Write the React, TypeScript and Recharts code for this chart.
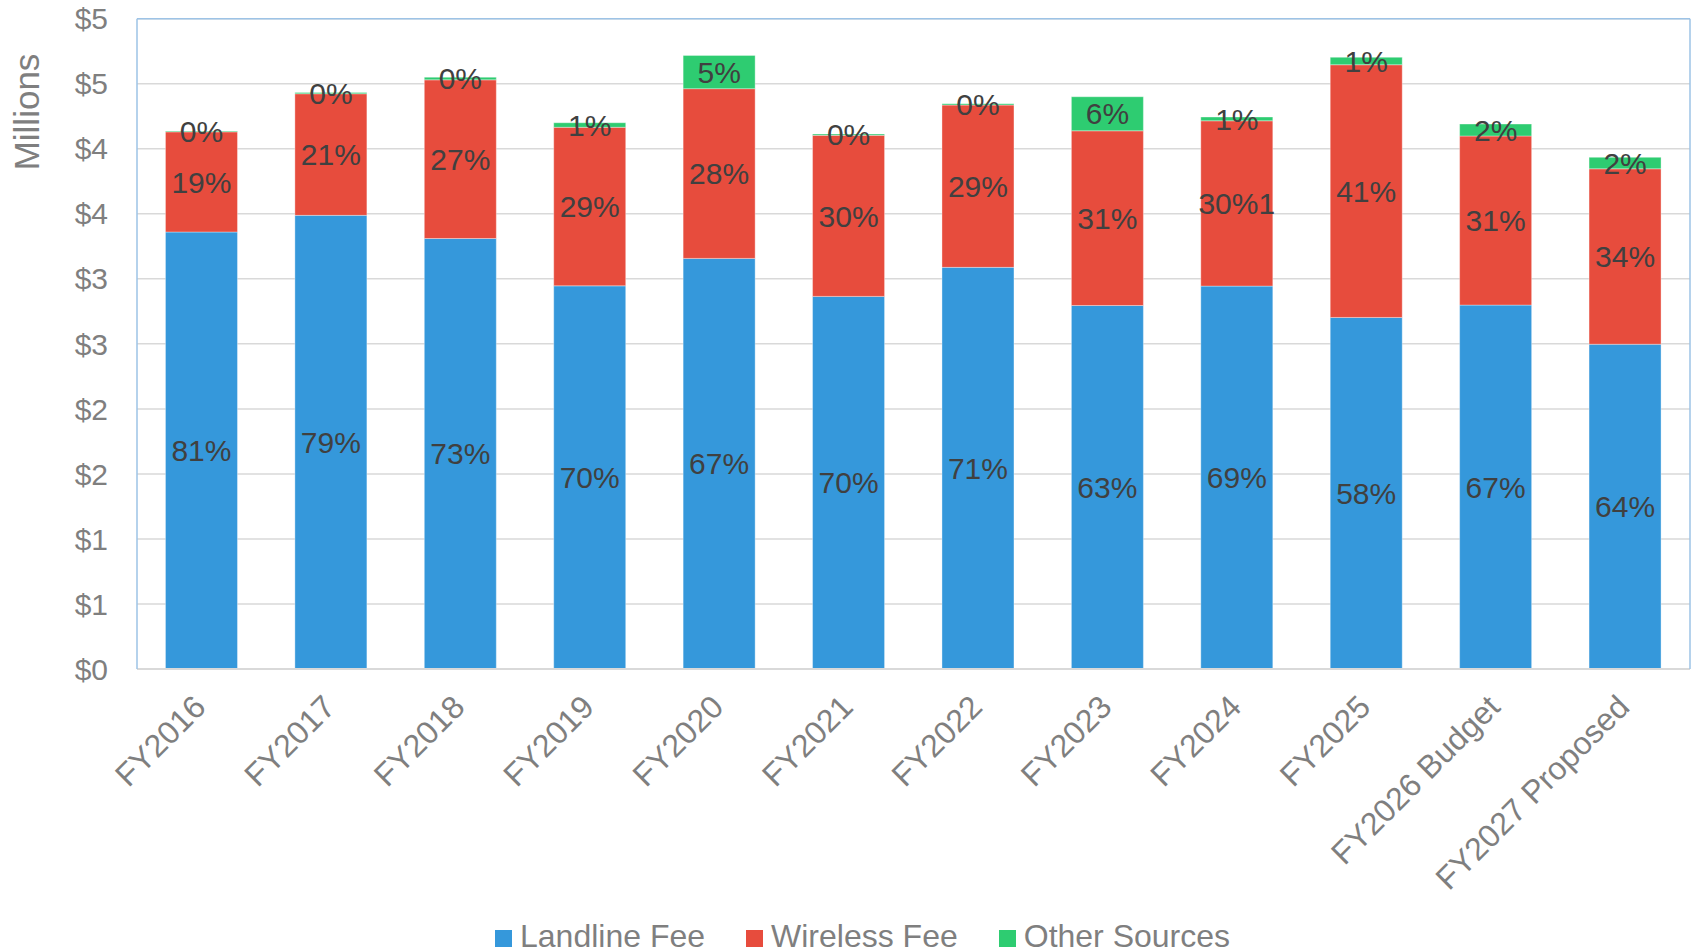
import { Bar, BarChart, CartesianGrid, LabelList, ReferenceLine, XAxis, YAxis } from 'recharts'

const categories = [
  'FY2016', 'FY2017', 'FY2018', 'FY2019', 'FY2020', 'FY2021',
  'FY2022', 'FY2023', 'FY2024', 'FY2025', 'FY2026 Budget', 'FY2027 Proposed',
]

// $ millions
const landline = [3.36, 3.488, 3.31, 2.946, 3.157, 2.865, 3.088, 2.795, 2.944, 2.703, 2.798, 2.497]
const wireless = [0.77, 0.935, 1.22, 1.219, 1.305, 1.238, 1.248, 1.343, 1.271, 1.943, 1.3, 1.349]
const other = [0.006, 0.01, 0.02, 0.035, 0.256, 0.01, 0.01, 0.262, 0.029, 0.057, 0.092, 0.088]

// labels as printed on the chart
const landlineLabels = ['81%', '79%', '73%', '70%', '67%', '70%', '71%', '63%', '69%', '58%', '67%', '64%']
const wirelessLabels = ['19%', '21%', '27%', '29%', '28%', '30%', '29%', '31%', '30%1', '41%', '31%', '34%']
const otherLabels = ['0%', '0%', '0%', '1%', '5%', '0%', '0%', '6%', '1%', '1%', '2%', '2%']

const yTicks = [0, 0.5, 1, 1.5, 2, 2.5, 3, 3.5, 4, 4.5, 5]

const SERIES = [
  { key: 'landline', label: 'landlineLabel', name: 'Landline Fee', color: '#3598db' },
  { key: 'wireless', label: 'wirelessLabel', name: 'Wireless Fee', color: '#e74c3d' },
  { key: 'other', label: 'otherLabel', name: 'Other Sources', color: '#2ecc71' },
]

const data = categories.map((name, i) => ({
  name,
  landline: landline[i],
  wireless: wireless[i],
  other: other[i],
  landlineLabel: landlineLabels[i],
  wirelessLabel: wirelessLabels[i],
  otherLabel: otherLabels[i],
}))

const FONT = '"Liberation Sans", Arial, sans-serif'
const GREY = '#7f7f7f'
const BORDER = '#9dc3e6'

function XTick({ x, y, payload }: { x?: number; y?: number; payload?: { value: string } }) {
  const ax = (x ?? 0) + 6
  const ay = (y ?? 0) + 40
  return (
    <text x={ax} y={ay} transform={`rotate(-45, ${ax}, ${ay})`} textAnchor="end"
      fill={GREY} fontSize={32} fontFamily={FONT}>
      {payload?.value}
    </text>
  )
}

function MillionsLabel() {
  return (
    <text transform="translate(39, 112) rotate(-90)" textAnchor="middle" fill={GREY}
      fontSize={35} fontFamily={FONT}>
      Millions
    </text>
  )
}

export default function App() {
  return (
    <div style={{ position: 'absolute', left: 0, top: 0, width: 1696, height: 952, background: '#fff' }}>
      <BarChart width={1696} height={952} data={data} barCategoryGap="22%"
        margin={{ top: 18.7, right: 0, left: 0, bottom: 0 }}>
        <CartesianGrid vertical={false} stroke="#d9d9d9" strokeWidth={1.5} />
        <XAxis dataKey="name" interval={0} tickLine={false} tickSize={0} tickMargin={0} height={283}
          axisLine={{ stroke: '#d9d9d9', strokeWidth: 2 }} tick={<XTick />} />
        <YAxis domain={[0, 5]} ticks={yTicks} width={137} tickLine={false} tickSize={8} tickMargin={21}
          axisLine={{ stroke: BORDER, strokeWidth: 1.5 }}
          tick={{ fill: GREY, fontSize: 30, fontFamily: FONT }}
          tickFormatter={(v: number) => `$${Math.round(v)}`}
          label={<MillionsLabel />} />
        <YAxis yAxisId="right" orientation="right" width={6} tick={false} tickLine={false}
          axisLine={{ stroke: BORDER, strokeWidth: 1.5 }} />
        <ReferenceLine y={5} stroke={BORDER} strokeWidth={1.5} />
        {SERIES.map((s) => (
          <Bar key={s.key} dataKey={s.key} name={s.name} stackId="a" fill={s.color}
            stroke="#ffffff" strokeOpacity={0.35} strokeWidth={1} isAnimationActive={false}>
            <LabelList dataKey={s.label} position="center" fill="#404040" fontSize={30} fontFamily={FONT} />
          </Bar>
        ))}
      </BarChart>
      <div style={{
        position: 'absolute', left: 495, top: 920, display: 'flex', gap: 41,
        fontFamily: FONT, fontSize: 32, lineHeight: 1, color: GREY, whiteSpace: 'nowrap',
      }}>
        {SERIES.map((s) => (
          <span key={s.key} style={{ display: 'flex', alignItems: 'center', gap: 8 }}>
            <span style={{ display: 'inline-block', width: 17, height: 17, marginTop: 4, background: s.color }} />
            {s.name}
          </span>
        ))}
      </div>
    </div>
  )
}
